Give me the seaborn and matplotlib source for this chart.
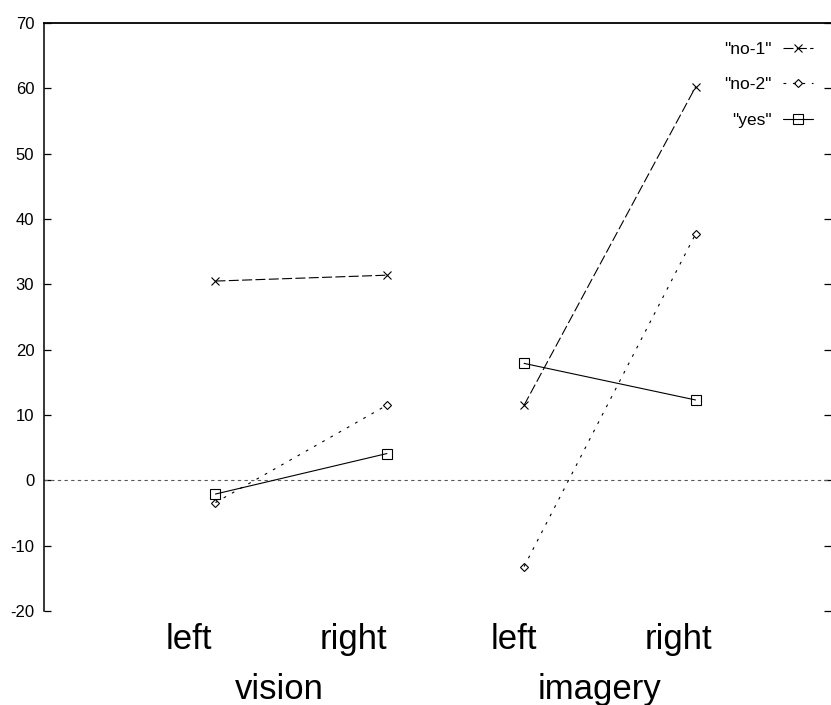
import numpy as np
import pandas as pd
import matplotlib
matplotlib.use("Agg")
import matplotlib.pyplot as plt
from matplotlib.lines import Line2D
import seaborn as sns

# data
series = ["no-1", "no-2", "yes"]
conditions = ["vision", "vision", "imagery", "imagery"]
sides = ["left", "right", "left", "right"]
no1 = [30.5, 31.4, 11.5, 60.2]
no2 = [-3.4, 11.5, -13.2, 37.7]
yes = [-2.1, 4.1, 17.9, 12.3]

# where each condition/side sits along x
xpos = [1, 2, 2.8, 3.8]

rows = []
for name, vals in zip(series, [no1, no2, yes]):
    for x, c, s, v in zip(xpos, conditions, sides, vals):
        rows.append({"series": name, "cond": c, "side": s, "x": x, "value": v})
df = pd.DataFrame(rows)

sns.set_style("ticks")
plt.rcParams["font.family"] = ["Liberation Sans", "DejaVu Sans"]
plt.rcParams["axes.unicode_minus"] = False
plt.rcParams["text.color"] = "black"
plt.rcParams["ytick.color"] = "black"
plt.rcParams["axes.edgecolor"] = "black"

W, H = 831, 705
fig = plt.figure(figsize=(W / 100, H / 100), dpi=100)
ax = fig.add_axes([44 / W, 1 - 611 / H, 1 - 44 / W, (611 - 23) / H])

markers = {"no-1": "x", "no-2": "D", "yes": "s"}
styles = {"no-1": (0, (9, 3)), "no-2": (0, (2.5, 6)), "yes": "-"}
msize = {"no-1": 6, "no-2": 4, "yes": 6.5}

# zero line
ax.axhline(0, color="0.35", lw=0.8, ls=(0, (3, 3)), zorder=1)

for name in series:
    sns.lineplot(data=df[df["series"] == name], x="x", y="value",
                 units="cond", estimator=None, sort=False, color="black",
                 marker=markers[name], markersize=msize[name],
                 linestyle=styles[name], lw=0.8,
                 markerfacecolor="none", markeredgecolor="black",
                 markeredgewidth=0.8, legend=False, ax=ax)

ax.set_xlim(0, 4.59)
ax.set_ylim(-20, 70)
ax.set_yticks(np.arange(-20, 71, 10))
ax.set_xticks([])
ax.set_xlabel("")
ax.set_ylabel("")

ax.spines["bottom"].set_visible(False)
ax.spines["right"].set_visible(False)
ax.spines["top"].set_linewidth(1.3)
ax.spines["left"].set_linewidth(1.1)
ax.tick_params(axis="y", direction="in", left=True, right=True, length=5.3,
               width=0.9, labelsize=12, pad=7, colors="black")

# legend, gnuplot style (text first, then sample)
handles = [Line2D([], [], color="black", lw=0.8, marker=markers[n],
                  markersize=msize[n], linestyle=styles[n],
                  markerfacecolor="none", markeredgecolor="black",
                  markeredgewidth=0.8) for n in series]
labels = ['"%s"' % s for s in series]
ax.legend(handles, labels, loc="upper right", frameon=False, markerfirst=False,
          fontsize=12.5, handlelength=1.75, handletextpad=0.63, labelspacing=1.16,
          borderaxespad=0, borderpad=0,
          bbox_to_anchor=(813 / W, 1 - 42 / H), bbox_transform=fig.transFigure)

# category labels under the axis
side_x = [189, 353, 514, 678]
cond_names = ["vision", "imagery"]
cond_x = [279, 600]
for s, x in zip(sides, side_x):
    fig.text(x / W, 1 - 649 / H, s, ha="center", va="baseline", fontsize=25)
for c, x in zip(cond_names, cond_x):
    fig.text(x / W, 1 - 699 / H, c, ha="center", va="baseline", fontsize=25)

fig.savefig("out.png", dpi=100)
